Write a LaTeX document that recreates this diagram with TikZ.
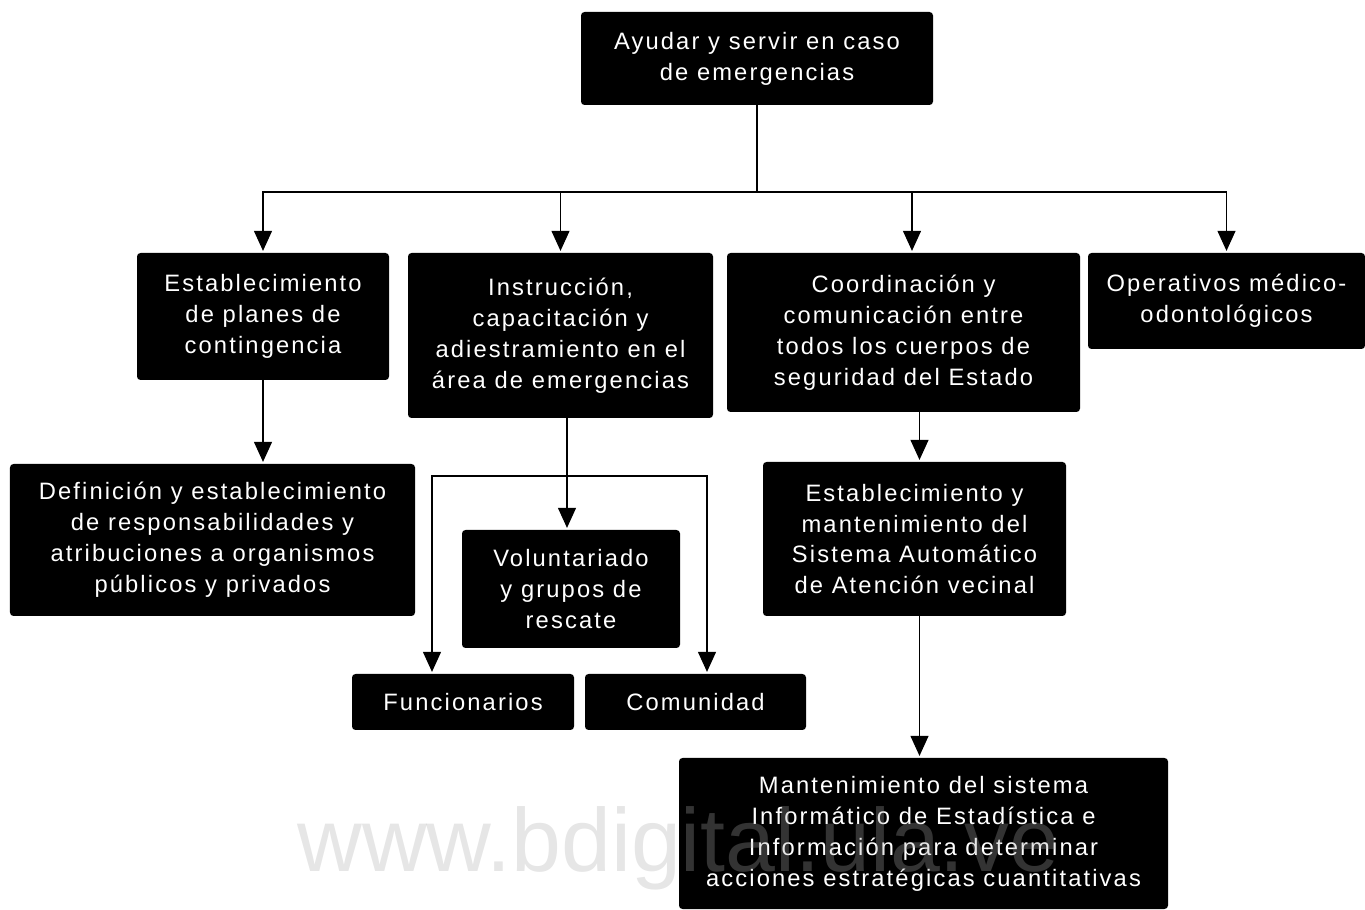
\documentclass[tikz,border=0pt]{standalone}
\usepackage{fontspec}
\usepackage{tikz}
\usetikzlibrary{arrows.meta}
\newfontfamily\boxfont[LetterSpace=9]{Liberation Sans}
\newfontfamily\markfont{Liberation Sans}

\begin{document}
\begin{tikzpicture}[
  box/.style={fill=black,text=white,rounded corners=2pt,align=center,inner sep=0pt,
    font=\boxfont\fontsize{13.5pt}{17.6pt}\selectfont},
  tri/.style={-{Triangle[width=3.6mm,length=4mm]},line width=0.6pt,shorten >=1pt},
  link/.style={line width=0.6pt}]
\useasboundingbox (0,0) rectangle (27.3,18.18);

\node (top) at (15.14,17.01) [box,minimum width=7.04cm,minimum height=1.86cm] {Ayudar y servir en caso\\de emergencias};

\node (plan) at (5.26,11.85) [box,minimum width=5.04cm,minimum height=2.54cm] {Establecimiento\\de planes de\\contingencia};
\node (instr) at (11.21,11.47) [box,minimum width=6.10cm,minimum height=3.30cm] {Instrucción,\\capacitación y\\adiestramiento en el\\área de emergencias};
\node (coord) at (18.07,11.53) [box,minimum width=7.06cm,minimum height=3.18cm] {Coordinación y\\comunicación entre\\todos los cuerpos de\\seguridad del Estado};
\node (oper) at (24.53,12.16) [box,minimum width=5.54cm,minimum height=1.92cm] {Operativos médico-\\odontológicos};

\node (defi) at (4.25,7.38) [box,minimum width=8.10cm,minimum height=3.04cm] {Definición y establecimiento\\de responsabilidades y\\atribuciones a organismos\\públicos y privados};
\node (vol) at (11.42,6.40) [box,minimum width=4.36cm,minimum height=2.36cm] {Voluntariado\\y grupos de\\rescate};
\node (func) at (9.26,4.14) [box,minimum width=4.44cm,minimum height=1.12cm] {Funcionarios};
\node (comu) at (13.91,4.14) [box,minimum width=4.42cm,minimum height=1.12cm] {Comunidad};
\node (estab) at (18.29,7.40) [box,minimum width=6.06cm,minimum height=3.08cm] {Establecimiento y\\mantenimiento del\\Sistema Automático\\de Atención vecinal};
\node (mant) at (18.47,1.51) [box,minimum width=9.78cm,minimum height=3.02cm] {Mantenimiento del sistema\\Informático de Estadística e\\Información para determinar\\acciones estratégicas cuantitativas};

\coordinate (bus) at (15.14,14.34);
\draw[link] (top) -- (bus);
\foreach \b in {plan,instr,oper}
  \draw[tri] (bus) -| (\b.north);
\draw[tri] (bus) -| ([xshift=1.7mm]coord.north);

\draw[tri] (plan.south) -- (plan.south |- defi.north);

\coordinate (split) at (11.34,8.66);
\draw[tri] ([xshift=1.3mm]instr.south) -- ([xshift=1.3mm]instr.south |- vol.north);
\draw[tri] (split) -| ([xshift=-6.2mm]func.north);
\draw[tri] (split) -| ([xshift=2.3mm]comu.north);

\draw[tri] ([xshift=1mm]estab.north |- coord.south) -- ([xshift=1mm]estab.north);
\draw[tri] ([xshift=1mm]estab.south) -- ([xshift=1mm]estab.south |- mant.north);

\node (mark) at (5.94,0.74) [anchor=base west,inner sep=0pt,text=black!33,opacity=0.3,
  font=\markfont\fontsize{51pt}{51pt}\selectfont] {www.bdigital.ula.ve};

\end{tikzpicture}
\end{document}
